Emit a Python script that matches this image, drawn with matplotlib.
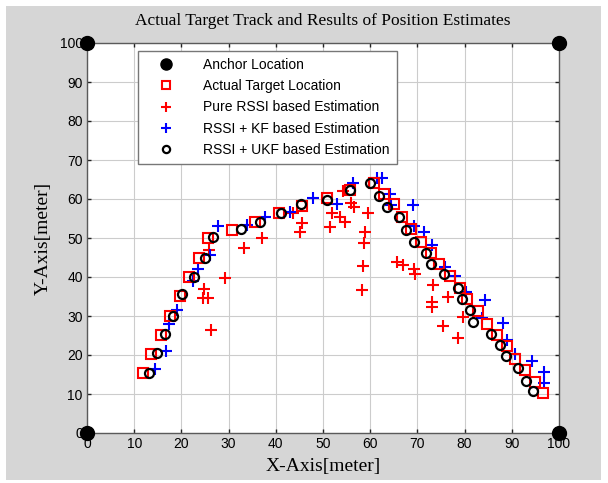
import matplotlib.pyplot as plt
from matplotlib.patches import Rectangle

# anchor nodes at the corners of the field
anchor_x = [0, 0, 100, 100]
anchor_y = [0, 100, 0, 100]

# actual target track
true_x = [11.8, 13.5, 15.6, 17.6, 19.6, 21.7, 23.8, 25.6, 30.7, 35.6, 40.7, 45.5, 50.8,
          55.7, 60.7, 63.0, 65.1, 66.7, 68.7, 70.8, 72.9, 74.5, 76.9, 79.0, 80.6, 82.9,
          84.7, 86.8, 88.9, 90.7, 92.7, 94.9, 96.7]
true_y = [15.3, 20.3, 25.1, 30.0, 35.1, 39.9, 45.0, 49.9, 52.1, 54.2, 56.3, 58.2, 60.2,
          62.3, 64.0, 61.4, 58.6, 55.5, 52.3, 49.1, 46.1, 43.3, 40.3, 37.3, 34.3, 31.3,
          28.0, 25.1, 22.4, 19.1, 16.2, 13.2, 10.2]

# pure RSSI estimates
rssi_x = [25.9, 29.3, 24.8, 24.6, 25.7, 26.2, 33.2, 37.0, 43.7, 45.5, 45.1, 51.4, 52.0,
          53.6, 54.7, 54.3, 56.0, 56.6, 59.5, 58.8, 58.7, 58.5, 58.3, 65.6, 67.0, 69.2,
          69.5, 73.3, 73.0, 73.0, 76.5, 79.7, 75.4, 78.7]
rssi_y = [46.9, 39.7, 36.9, 34.5, 34.5, 26.5, 47.5, 49.9, 56.3, 53.9, 51.6, 52.8, 56.3,
          55.5, 54.2, 62.0, 58.9, 58.0, 56.5, 51.5, 48.7, 42.9, 36.6, 43.9, 43.1, 42.0,
          40.8, 38.0, 33.7, 32.4, 34.8, 29.8, 27.5, 24.4]

# RSSI + Kalman filter
kf_x = [14.4, 16.7, 17.3, 19.0, 22.4, 23.6, 26.0, 27.7, 33.9, 37.7, 43.0, 47.9, 52.9,
        56.4, 61.4, 62.4, 64.3, 64.4, 69.0, 69.2, 71.3, 73.1, 75.8, 78.0, 80.4, 84.3,
        83.6, 88.1, 88.9, 90.7, 94.3, 96.8, 96.8]
kf_y = [16.5, 21.0, 28.0, 31.5, 39.0, 42.1, 45.6, 53.2, 53.3, 55.5, 56.6, 60.2, 58.7,
        64.0, 65.3, 65.5, 61.2, 58.5, 58.5, 53.2, 51.5, 48.2, 42.6, 40.3, 36.2, 34.1,
        29.4, 28.3, 23.8, 20.2, 18.5, 15.7, 12.7]

# RSSI + unscented Kalman filter
ukf_x = [13.1, 14.8, 16.6, 18.2, 20.2, 22.7, 25.0, 26.8, 32.6, 36.7, 41.2, 45.3, 50.9,
         55.7, 59.9, 61.9, 63.5, 66.0, 67.6, 69.2, 71.9, 72.9, 75.6, 78.5, 79.5, 81.1,
         81.7, 85.6, 87.4, 88.8, 91.4, 93.0, 94.4]
ukf_y = [15.5, 20.6, 25.4, 30.0, 35.6, 39.9, 45.0, 50.2, 52.2, 54.0, 56.5, 58.6, 59.7,
         62.3, 64.0, 60.8, 57.9, 55.3, 52.1, 49.1, 46.1, 43.3, 40.7, 37.1, 34.4, 31.5,
         28.5, 25.4, 22.6, 19.8, 16.6, 13.4, 10.8]

ticks = list(range(0, 101, 10))

fig = plt.figure(figsize=(6.08, 4.83), dpi=100, facecolor='white')
# grey window panel behind everything
fig.patches.append(Rectangle((6 / 608, 3 / 483), 595 / 608, 474 / 483,
                             transform=fig.transFigure, facecolor='#d6d6d6',
                             edgecolor='none', zorder=-10))

ax = fig.add_axes([87 / 608, 50 / 483, 472 / 608, 390 / 483])
ax.set_facecolor('white')

ax.plot(anchor_x, anchor_y, 'o', color='black', ms=10, clip_on=False, zorder=5,
        label='Anchor Location')
ax.plot(true_x, true_y, 's', mfc='none', mec='red', ms=7.5, mew=1.5, zorder=3,
        label='Actual Target Location')
ax.plot(rssi_x, rssi_y, '+', color='red', ms=9, mew=1.5, zorder=2,
        label='Pure RSSI based Estimation')
ax.plot(kf_x, kf_y, '+', color='blue', ms=9, mew=1.5, zorder=2,
        label='RSSI + KF based Estimation')
ax.plot(ukf_x, ukf_y, 'o', mfc='none', mec='black', ms=6.5, mew=1.6, zorder=4,
        label='RSSI + UKF based Estimation')

ax.set_xlim(0, 100)
ax.set_ylim(0, 100)
ax.set_xticks(ticks)
ax.set_yticks(ticks)
ax.grid(True, color='#cccccc', lw=0.8)
ax.set_axisbelow(True)
ax.tick_params(direction='in', length=3, width=1, color='#222222',
               top=True, right=True, labelsize=10, pad=3)
for lab in ax.get_xticklabels() + ax.get_yticklabels():
    lab.set_family('Liberation Sans')
for sp in ax.spines.values():
    sp.set_color('#5a5a5a')
    sp.set_linewidth(1)

serif = 'Liberation Serif'
ax.set_title('Actual Target Track and Results of Position Estimates',
             family=serif, fontsize=12.5, pad=13)
ax.set_xlabel('X-Axis[meter]', family=serif, fontsize=14, labelpad=5)
ax.set_ylabel('Y-Axis[meter]', family=serif, fontsize=14, labelpad=6)

leg = ax.legend(loc='upper left', bbox_to_anchor=(51 / 472, 1 - 8 / 390),
                prop={'family': 'Liberation Sans', 'size': 10},
                fancybox=False, framealpha=1, edgecolor='#777777',
                borderpad=0.5, labelspacing=0.52, handletextpad=1.2,
                handlelength=3.0, borderaxespad=0, markerscale=0.8)
leg.get_frame().set_linewidth(1)

fig.savefig('out.png', dpi=100, facecolor=fig.get_facecolor())
